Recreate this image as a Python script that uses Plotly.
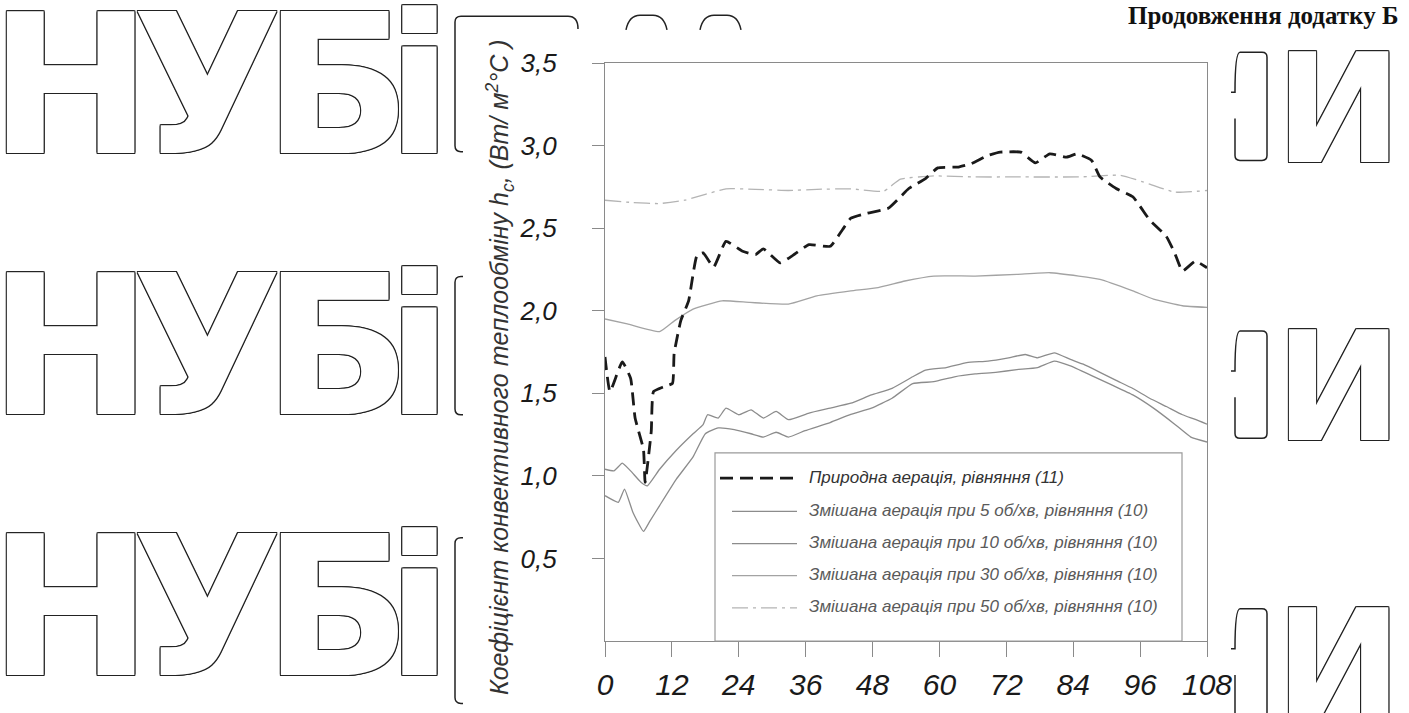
import plotly.graph_objects as go

# ---------------- data ----------------
hours_natural = [0, 0.9, 3.1, 4.6, 5.4, 6.9, 7.2, 8.3, 8.7, 10.6, 12.1, 12.4, 13.6, 15.0, 16.5, 17.6,
                 19.5, 21.7, 24.7, 27.0, 28.4, 31.4, 33.7, 36.6, 40.4, 42.6, 44.1, 47.0, 50.8, 53.0,
                 54.5, 57.5, 59.7, 63.4, 65.7, 68.7, 70.9, 74.6, 77.2, 79.8, 82.8, 84.7, 87.3, 88.8,
                 91.7, 94.7, 97.7, 100.7, 102.2, 103.6, 105.9, 108]
h_natural = [1.72, 1.51, 1.69, 1.59, 1.35, 1.16, 0.96, 1.27, 1.51, 1.54, 1.56, 1.74, 1.94, 2.06, 2.335, 2.35,
             2.265, 2.42, 2.36, 2.34, 2.375, 2.29, 2.335, 2.40, 2.39, 2.49, 2.56, 2.59, 2.62, 2.69,
             2.74, 2.80, 2.865, 2.87, 2.89, 2.94, 2.96, 2.96, 2.895, 2.95, 2.93, 2.95, 2.91, 2.81,
             2.74, 2.69, 2.55, 2.45, 2.35, 2.24, 2.30, 2.26]

hours_5 = [0, 2.4, 3.5, 5.0, 6.9, 8.0, 9.8, 12.8, 15.8, 18.0, 20.3, 23.2, 26.2, 28.4, 30.7, 32.9, 35.9,
           40.4, 44.1, 47.8, 51.5, 55.2, 59.0, 62.7, 66.4, 70.1, 73.9, 77.6, 80.6, 83.5, 87.3, 91.0,
           94.7, 98.4, 102.2, 105.1, 108]
h_5 = [0.88, 0.84, 0.92, 0.78, 0.664, 0.723, 0.82, 0.98, 1.115, 1.255, 1.29, 1.28, 1.255, 1.235, 1.264,
       1.235, 1.274, 1.323, 1.372, 1.41, 1.47, 1.559, 1.57, 1.60, 1.617, 1.627, 1.643, 1.656, 1.695,
       1.666, 1.607, 1.549, 1.49, 1.41, 1.313, 1.235, 1.205]

hours_10 = [0, 1.6, 3.1, 4.6, 6.5, 7.6, 9.8, 12.8, 15.8, 17.6, 18.4, 20.3, 21.7, 24.0, 26.2, 28.4, 30.7,
            32.9, 36.6, 40.4, 44.1, 47.8, 51.5, 55.2, 57.5, 61.2, 64.9, 68.7, 72.4, 75.4, 77.6, 80.6,
            83.5, 85.8, 88.8, 91.7, 94.7, 97.7, 100.7, 103.6, 105.9, 108]
h_10 = [1.04, 1.03, 1.077, 1.03, 0.96, 0.94, 1.04, 1.155, 1.255, 1.31, 1.37, 1.35, 1.41, 1.37, 1.40,
        1.35, 1.39, 1.34, 1.38, 1.41, 1.44, 1.49, 1.53, 1.60, 1.64, 1.656, 1.686, 1.695, 1.715, 1.735,
        1.715, 1.745, 1.705, 1.676, 1.627, 1.578, 1.529, 1.47, 1.42, 1.37, 1.342, 1.313]

hours_30 = [0, 4.0, 9.8, 12.5, 15.8, 21.0, 26.0, 32.9, 38.0, 44.1, 49.0, 53.8, 59.0, 66.4, 73.9, 79.8,
            85.0, 88.8, 94.7, 98.4, 103.6, 108]
h_30 = [1.95, 1.92, 1.873, 1.94, 2.01, 2.06, 2.05, 2.04, 2.09, 2.12, 2.14, 2.18, 2.21, 2.21, 2.22, 2.23,
        2.21, 2.19, 2.12, 2.07, 2.03, 2.02]

hours_50 = [0, 5.0, 9.8, 14.3, 21.7, 27.0, 32.9, 38.0, 44.1, 50.0, 53.0, 59.0, 66.4, 73.9, 85.0, 92.5,
            97.7, 102.2, 108]
h_50 = [2.669, 2.655, 2.649, 2.669, 2.738, 2.735, 2.728, 2.735, 2.738, 2.724, 2.797, 2.816, 2.81, 2.81,
        2.81, 2.82, 2.767, 2.718, 2.728]

x_ticks = [0, 12, 24, 36, 48, 60, 72, 84, 96, 108]
y_ticks = [0.5, 1.0, 1.5, 2.0, 2.5, 3.0, 3.5]

legend_labels = [
    "Природна аерація, рівняння (11)",
    "Змішана аерація при 5 об/хв, рівняння (10)",
    "Змішана аерація при 10 об/хв, рівняння (10)",
    "Змішана аерація при 30 об/хв, рівняння (10)",
    "Змішана аерація при 50 об/хв, рівняння (10)",
]
y_title = "Коефіцієнт конвективного теплообміну h<sub>c</sub>, (Вт/ м<sup>2</sup>°С )"
page_title = "Продовження додатку Б"
watermark_left = ["Н", "У", "Б", "і"]
watermark_right = "И"

# ---------------- layout helpers ----------------
W, H = 1409, 713
L, R, T, B = 605, 1207, 63, 656


def px(x):
    return (x - L) / (R - L)


def py(y):
    return (B - y) / (B - T)


def path(points_cmds):
    out = []
    for cmd in points_cmds:
        c = cmd[0]
        nums = cmd[1:]
        pts = []
        for i in range(0, len(nums), 2):
            pts.append(f"{px(nums[i]):.5f},{py(nums[i + 1]):.5f}")
        out.append(c + " " + " ".join(pts))
    return " ".join(out)


SANS = "Liberation Sans"
WM = "DejaVu Sans"
GRAY_LINE = "#8c8c8c"

series = [
    (hours_50, h_50, legend_labels[4], dict(color="#b4b4b4", width=1.3, dash="16px,5px,3px,5px")),
    (hours_30, h_30, legend_labels[3], dict(color="#a3a3a3", width=1.3)),
    (hours_10, h_10, legend_labels[2], dict(color=GRAY_LINE, width=1.3)),
    (hours_5, h_5, legend_labels[1], dict(color=GRAY_LINE, width=1.3)),
    (hours_natural, h_natural, legend_labels[0], dict(color="#1a1a1a", width=2.8, dash="13px,7px")),
]

fig = go.Figure()
for xs, ys, name, ln in series:
    fig.add_trace(go.Scatter(x=xs, y=ys, mode="lines", name=name, line=ln,
                             line_shape="spline", line_smoothing=0.4, showlegend=False))

shapes = []
annotations = []

# ---------------- custom legend ----------------
shapes.append(dict(type="rect", xref="paper", yref="paper", x0=px(715), x1=px(1182), y0=py(656), y1=py(463),
                   line=dict(color="#9a9a9a", width=1.2), fillcolor="rgba(0,0,0,0)"))
legend_rows = [488, 522, 555, 588, 621]
legend_styles = [
    (720, dict(color="#1a1a1a", width=2.8, dash="13px,7px")),
    (732, dict(color=GRAY_LINE, width=1.3)),
    (732, dict(color=GRAY_LINE, width=1.3)),
    (732, dict(color="#a3a3a3", width=1.3)),
    (732, dict(color="#b4b4b4", width=1.3, dash="16px,5px,3px,5px")),
]
for label, yrow, (x0, ln) in zip(legend_labels, legend_rows, legend_styles):
    shapes.append(dict(type="line", xref="paper", yref="paper", x0=px(x0), x1=px(797),
                       y0=py(yrow + 1), y1=py(yrow + 1), line=ln))
    annotations.append(dict(text=label, xref="paper", yref="paper", x=px(807), y=py(yrow),
                            xanchor="left", yanchor="middle", showarrow=False,
                            font=dict(family=SANS, size=17, style="italic",
                                      color="#333" if yrow == legend_rows[0] else "#5a5a5a")))

# ---------------- titles ----------------
annotations.append(dict(text=y_title, xref="paper", yref="paper", x=px(500), y=py(375), textangle=-90,
                        xanchor="center", yanchor="middle", showarrow=False,
                        font=dict(family=SANS, size=25, style="italic", color="#333")))
annotations.append(dict(text=page_title, xref="paper", yref="paper", x=px(1400), y=py(14),
                        xanchor="right", yanchor="middle", showarrow=False,
                        font=dict(family="Liberation Serif", size=25, weight="bold", color="#111")))

# ---------------- watermark (outlined letters around the scanned chart) ----------------
OUTLINE = ", ".join(f"{dx}px {dy}px 0 #222" for dx, dy in
                    [(1, 0), (-1, 0), (0, 1), (0, -1), (1, 1), (-1, -1), (1, -1), (-1, 1)])
left_centers = [70, 207, 337, 419]
left_rows = [86, 354, 622]
for yc in left_rows:
    for ch, xc in zip(watermark_left, left_centers):
        annotations.append(dict(text=ch, xref="paper", yref="paper", x=px(xc), y=py(yc),
                                xanchor="center", yanchor="middle", showarrow=False,
                                font=dict(family=WM, size=195, weight="bold", color="white",
                                          shadow=OUTLINE)))
right_rows = [(52, 163), (338, 448), (623, 734)]
for t, b in right_rows:
    annotations.append(dict(text=watermark_right, xref="paper", yref="paper", x=px(1338),
                            y=py((t + b) / 2 + 3), xanchor="center", yanchor="middle", showarrow=False,
                            font=dict(family=WM, size=152, weight="bold", color="white",
                                      shadow=OUTLINE)))
    # right leg of a letter partly hidden behind the scan
    shapes.append(dict(type="path", xref="paper", yref="paper", line=dict(color="#222", width=1.5),
                       path=path([("M", 1231, t + 41), ("L", 1235, t + 41, 1235, t + 5),
                                  ("Q", 1235, t, 1240, t), ("L", 1262, t), ("Q", 1267, t, 1267, t + 5),
                                  ("L", 1267, b - 5), ("Q", 1267, b, 1262, b), ("L", 1240, b),
                                  ("Q", 1235, b, 1235, b - 5), ("L", 1235, t + 68, 1231, t + 68)])))

# left edge of the hidden "П"
shapes.append(dict(type="path", xref="paper", yref="paper", line=dict(color="#222", width=1.5),
                   path=path([("M", 578, 28), ("Q", 578, 15, 568, 15), ("L", 461, 15),
                              ("Q", 455, 15, 455, 21), ("L", 455, 148), ("Q", 455, 154, 461, 154),
                              ("L", 463, 154)])))
for t, b in [(282, 424), (550, 720)]:
    shapes.append(dict(type="path", xref="paper", yref="paper", line=dict(color="#222", width=1.5),
                       path=path([("M", 463, t), ("L", 461, t), ("Q", 455, t, 455, t + 6),
                                  ("L", 455, b - 6), ("Q", 455, b, 461, b), ("L", 463, b)])))
# tops of letters peeking above the scan
for x0 in [626, 700]:
    shapes.append(dict(type="path", xref="paper", yref="paper", line=dict(color="#222", width=1.5),
                       path=path([("M", x0, 29), ("Q", x0 + 3, 14, x0 + 14, 14), ("L", x0 + 27, 14),
                                  ("Q", x0 + 38, 14, x0 + 41, 29)])))

tickfont = dict(family=SANS, style="italic", color="#1a1a1a")
fig.update_layout(
    width=W, height=H,
    margin=dict(l=L, r=W - R, t=T, b=H - B, pad=0),
    paper_bgcolor="white", plot_bgcolor="white",
    separators=", ",
    showlegend=False,
    shapes=shapes,
    annotations=annotations,
    xaxis=dict(range=[0, 108], tickvals=x_ticks, ticks="outside", ticklen=15, tickwidth=1,
               tickcolor="#8a8a8a", showline=True, linecolor="#8a8a8a", linewidth=1.2, mirror=True,
               showgrid=False, zeroline=False, tickfont=dict(size=30, **tickfont), ticklabelstandoff=2),
    yaxis=dict(range=[0, 3.5], tickvals=y_ticks, tickformat=".1f", ticks="outside", ticklen=12,
               tickwidth=1, tickcolor="#8a8a8a", showline=True, linecolor="#8a8a8a", linewidth=1.2,
               mirror=True, showgrid=False, zeroline=False, tickfont=dict(size=26, **tickfont),
               ticklabelstandoff=30),
)

fig.write_html("out.html")
